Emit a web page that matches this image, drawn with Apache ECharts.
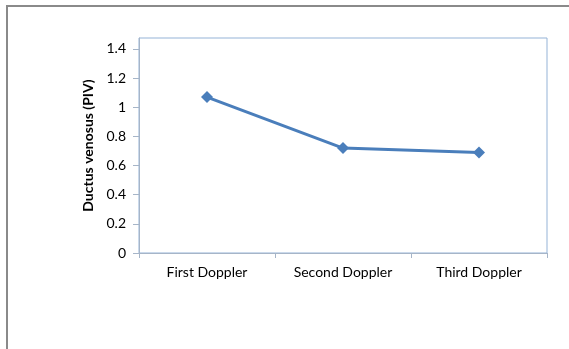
<!DOCTYPE html>
<html>
<head>
<meta charset="utf-8">
<script src="https://cdn.jsdelivr.net/npm/echarts@6/dist/echarts.min.js"></script>
<style>
  html, body { margin: 0; padding: 0; background: #fff; }
  #chart { position: absolute; left: 0; top: 0; width: 569px; height: 349px; }
  #frame { position: absolute; left: 6px; top: 5px; width: 580px; height: 360px;
           border-left: 2px solid #8a8a8a; border-top: 2px solid #8a8a8a; pointer-events: none; }
</style>
</head>
<body>
<div id="chart"></div>
<div id="frame"></div>
<script>
const categories = ['First Doppler', 'Second Doppler', 'Third Doppler'];
const values = [1.07, 0.72, 0.69];
const yTicks = [0, 0.2, 0.4, 0.6, 0.8, 1, 1.2, 1.4];
const yAxisName = 'Ductus venosus (PIV)';

const FONT = 'Lato, "Open Sans", sans-serif';
const chart = echarts.init(document.getElementById('chart'), null, { renderer: 'canvas' });
chart.setOption({
  animation: false,
  backgroundColor: 'transparent',
  grid: {
    left: 139, right: 22, top: 38, bottom: 96,
    show: true, borderColor: '#95B3D7', borderWidth: 1, backgroundColor: 'transparent'
  },
  xAxis: {
    type: 'category',
    data: categories,
    boundaryGap: true,
    axisLine: { lineStyle: { color: '#A6B5C8', width: 1 } },
    axisTick: { show: true, length: 5, interval: 0, lineStyle: { color: '#A6B5C8' } },
    axisLabel: { color: '#000', fontFamily: FONT, fontSize: 14, margin: 12 }
  },
  yAxis: {
    type: 'value',
    min: 0,
    max: 1.475,
    interval: 0.2,
    name: yAxisName,
    nameLocation: 'middle',
    nameGap: 39,
    nameTextStyle: { color: '#000', fontFamily: FONT, fontSize: 14, fontWeight: 'bold' },
    splitLine: { show: false },
    axisLine: { show: true, lineStyle: { color: '#A6B5C8', width: 1 } },
    axisTick: { show: true, length: 6, customValues: yTicks, lineStyle: { color: '#A6B5C8' } },
    axisLabel: {
      color: '#000', fontFamily: FONT, fontSize: 14, margin: 13,
      customValues: yTicks,
      formatter: v => String(Math.round(v * 10) / 10)
    }
  },
  series: [{
    type: 'line',
    data: values,
    symbol: 'diamond',
    symbolSize: 12,
    lineStyle: { color: '#4A7EBB', width: 3 },
    itemStyle: { color: '#4A7EBB' }
  }]
});
</script>
</body>
</html>
